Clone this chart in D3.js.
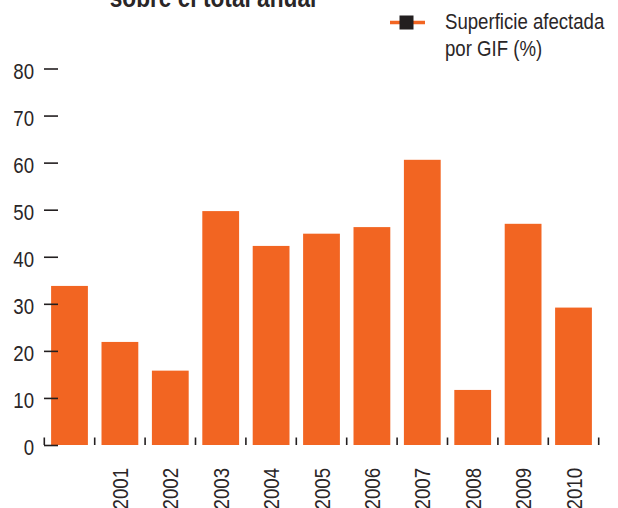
<!DOCTYPE html>
<html>
<head>
<meta charset="utf-8">
<script src="https://cdn.jsdelivr.net/npm/d3@7"></script>
<style>
  html, body { margin: 0; padding: 0; background: #fff; }
  svg { display: block; }
  text { font-family: "Liberation Sans", Arial, sans-serif; fill: #2a2627; }
</style>
</head>
<body>
<svg id="chart" width="618" height="508"></svg>
<script>
// Share of burned area caused by large fires (GIF), per year
const xLabels = ["", "2001", "2002", "2003", "2004", "2005", "2006", "2007", "2008", "2009", "2010"];
const values = [33.8, 21.9, 15.8, 49.7, 42.3, 44.9, 46.3, 60.6, 11.7, 47.0, 29.2];
const yTicks = [0, 10, 20, 30, 40, 50, 60, 70, 80];
const titleText = "sobre el total anual";
const legendLines = ["Superficie afectada", "por GIF (%)"];

const ORANGE = "#f26522";
const INK = "#231f20";
const NARROW = 0.81; // horizontal squeeze giving a condensed face

const svg = d3.select("#chart");

const x = d3.scaleBand()
  .domain(d3.range(values.length))
  .range([44.3, 598.7])
  .paddingInner(0.27)
  .paddingOuter(0.135);

const y = d3.scaleLinear()
  .domain([0, 80])
  .range([445, 68.5]);

// Title (its upper part runs off the canvas)
svg.append("text")
  .attr("transform", `translate(213,6.5) scale(${NARROW},1)`)
  .attr("text-anchor", "middle")
  .style("font-size", "28px")
  .style("font-weight", "bold")
  .attr("fill", INK)
  .text(titleText);

// Bars
svg.append("g")
  .selectAll("rect")
  .data(values)
  .join("rect")
  .attr("x", (d, i) => x(i))
  .attr("y", d => y(d))
  .attr("width", x.bandwidth())
  .attr("height", d => y(0) - y(d))
  .attr("fill", ORANGE);

// Y axis
const yAxis = svg.append("g")
  .attr("transform", "translate(58,0)")
  .call(d3.axisLeft(y).tickValues(yTicks).tickSize(14).tickPadding(10).tickFormat(d3.format("d")));
yAxis.select(".domain").remove();
yAxis.selectAll(".tick line").attr("stroke", INK).attr("stroke-width", 1.6);
yAxis.selectAll(".tick text")
  .attr("transform", `translate(-24,0) scale(${NARROW},1)`)
  .attr("x", 0)
  .attr("dy", "0.43em")
  .style("font-size", "23px")
  .attr("fill", INK);

// Separator ticks between year bands
const half = x.step() * x.paddingInner() / 2;
const seps = d3.range(values.length).map(i => x(i) - half)
  .concat([x(values.length - 1) + x.bandwidth() + half]);
svg.append("g")
  .selectAll("line")
  .data(seps)
  .join("line")
  .attr("x1", d => d)
  .attr("x2", d => d)
  .attr("y1", y(0) - 7.5)
  .attr("y2", y(0))
  .attr("stroke", INK)
  .attr("stroke-width", 1.6);

// X axis labels (rotated years)
const xAxis = svg.append("g")
  .attr("transform", `translate(0,${y(0)})`)
  .call(d3.axisBottom(x).tickSize(0).tickFormat(i => xLabels[i]));
xAxis.select(".domain").remove();
xAxis.selectAll(".tick text")
  .attr("transform", `rotate(-90) translate(-23,0) scale(${NARROW},1)`)
  .attr("x", 0)
  .attr("y", 0)
  .attr("dy", "0.35em")
  .attr("text-anchor", "end")
  .style("font-size", "23px")
  .attr("fill", INK);

// Legend
const lg = svg.append("g");
lg.append("line")
  .attr("x1", 390).attr("x2", 425)
  .attr("y1", 22.5).attr("y2", 22.5)
  .attr("stroke", ORANGE).attr("stroke-width", 3.5);
lg.append("rect")
  .attr("x", 399.5).attr("y", 15.5)
  .attr("width", 14).attr("height", 14)
  .attr("fill", INK);
lg.selectAll("text")
  .data(legendLines)
  .join("text")
  .attr("transform", (d, i) => `translate(445,${29.3 + i * 26.3}) scale(${NARROW},1)`)
  .style("font-size", "23px")
  .attr("fill", "#3a3738")
  .text(d => d);
</script>
</body>
</html>
